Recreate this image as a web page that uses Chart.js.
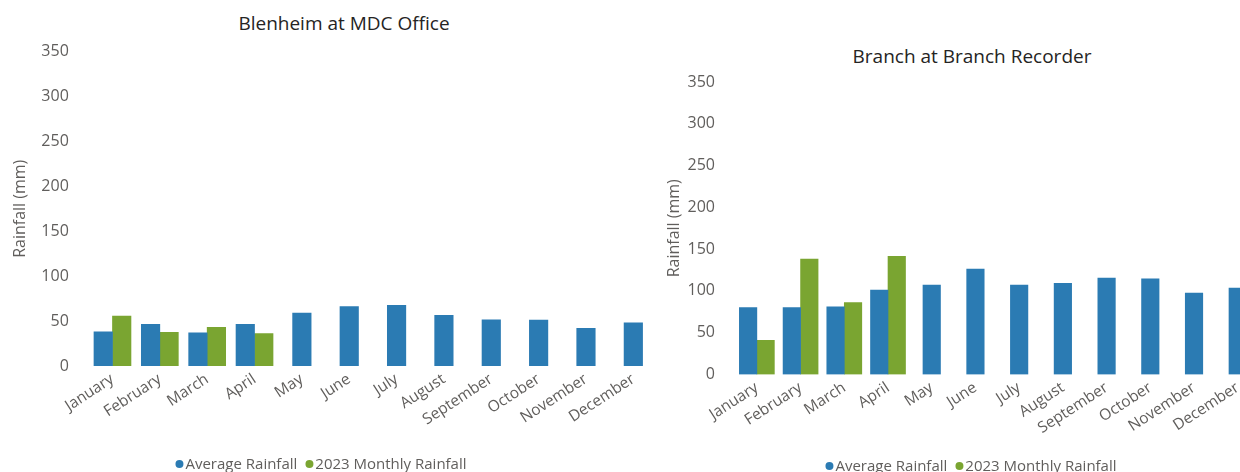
<!DOCTYPE html>
<html>
<head>
<meta charset="utf-8">
<script src="https://cdn.jsdelivr.net/npm/chart.js@4"></script>
<style>
  html, body { margin: 0; padding: 0; background: #fff; overflow: hidden; }
  body { width: 1240px; height: 472px; position: relative; font-family: "Open Sans", sans-serif; }
  .panel { position: absolute; top: 0; height: 472px; }
  .title { position: absolute; white-space: nowrap; transform: translate(-50%, -50%);
    font-size: 19px; color: #252423; }
  .legend { position: absolute; white-space: nowrap; transform: translate(-50%, -50%);
    font-size: 15px; color: #605e5c; }
  .legend span.item { margin: 0 4px; }
  .dot { display: inline-block; width: 8px; height: 8px; border-radius: 50%;
    margin-right: 2px; vertical-align: 1px; }
</style>
</head>
<body>
<div class="title" style="left:344px; top:23px;">Blenheim at MDC Office</div>
<div class="title" style="left:972px; top:56px;">Branch at Branch Recorder</div>
<div class="panel" style="left:0; width:670px;"><canvas id="c1"></canvas></div>
<div class="panel" style="left:640px; width:630px;"><canvas id="c2"></canvas></div>
<div class="legend" style="left:321px; top:463px;"><span class="item"><span class="dot" style="background:#2b7bb3"></span>Average Rainfall</span><span class="item"><span class="dot" style="background:#7aa531"></span>2023 Monthly Rainfall</span></div>
<div class="legend" style="left:971px; top:465px;"><span class="item"><span class="dot" style="background:#2b7bb3"></span>Average Rainfall</span><span class="item"><span class="dot" style="background:#7aa531"></span>2023 Monthly Rainfall</span></div>
<script>
// Monthly rainfall, two recorders: long-term average vs 2023 (Jan-Apr only)
const months = ['January', 'February', 'March', 'April', 'May', 'June', 'July',
  'August', 'September', 'October', 'November', 'December'];
const yTicks = [0, 50, 100, 150, 200, 250, 300, 350];

const blenheimAvg = [38, 46.5, 37, 46.5, 59, 66, 67.5, 56.5, 51.5, 51, 42, 48];
const blenheim2023 = [55.5, 37.5, 43, 36, null, null, null, null, null, null, null, null];

const branchAvg = [80, 80, 81, 101, 107, 126, 107, 109, 115.5, 114.5, 97.5, 103.5];
const branch2023 = [41, 138, 86, 141.5, null, null, null, null, null, null, null, null];

const BLUE = '#2b7bb3';
const GREEN = '#7aa531';
const TICK = '#605e5c';

function makeChart(id, avg, rain, o) {
  return new Chart(document.getElementById(id), {
    type: 'bar',
    data: {
      labels: months,
      datasets: [
        { label: 'Average Rainfall', data: avg, backgroundColor: BLUE },
        { label: '2023 Monthly Rainfall', data: rain, backgroundColor: GREEN }
      ]
    },
    options: {
      responsive: true,
      maintainAspectRatio: false,
      animation: false,
      skipNull: true,
      barThickness: o.bar,
      layout: { padding: { top: o.top, right: o.right, bottom: 0, left: 0 } },
      scales: {
        x: {
          grid: { display: false, drawTicks: false },
          border: { display: false },
          ticks: {
            autoSkip: false, minRotation: 33, maxRotation: 33, padding: 4,
            color: TICK, font: { family: 'Open Sans', size: 15.5 }
          },
          afterFit: function (s) { s.height = o.xh; }
        },
        y: {
          min: 0, max: 350,
          afterBuildTicks: function (s) { s.ticks = yTicks.map(function (v) { return { value: v }; }); },
          grid: { display: false, drawTicks: false },
          border: { display: false },
          ticks: { padding: 20, color: TICK, font: { family: 'Open Sans', size: 16 } },
          title: {
            display: true, text: 'Rainfall (mm)', color: TICK,
            font: { family: 'Open Sans', size: 16 }, padding: { top: o.tp, bottom: 0 }
          },
          afterFit: function (s) { s.width = o.yw; }
        }
      },
      plugins: { legend: { display: false }, tooltip: { enabled: false } }
    }
  });
}

makeChart('c1', blenheimAvg, blenheim2023, { bar: 18.5, top: 51.5, right: 13, xh: 106, yw: 88.8, tp: 10.4 });
makeChart('c2', branchAvg, branch2023, { bar: 17.5, top: 82, right: 10.4, xh: 97.5, yw: 95, tp: 24.4 });
</script>
</body>
</html>
